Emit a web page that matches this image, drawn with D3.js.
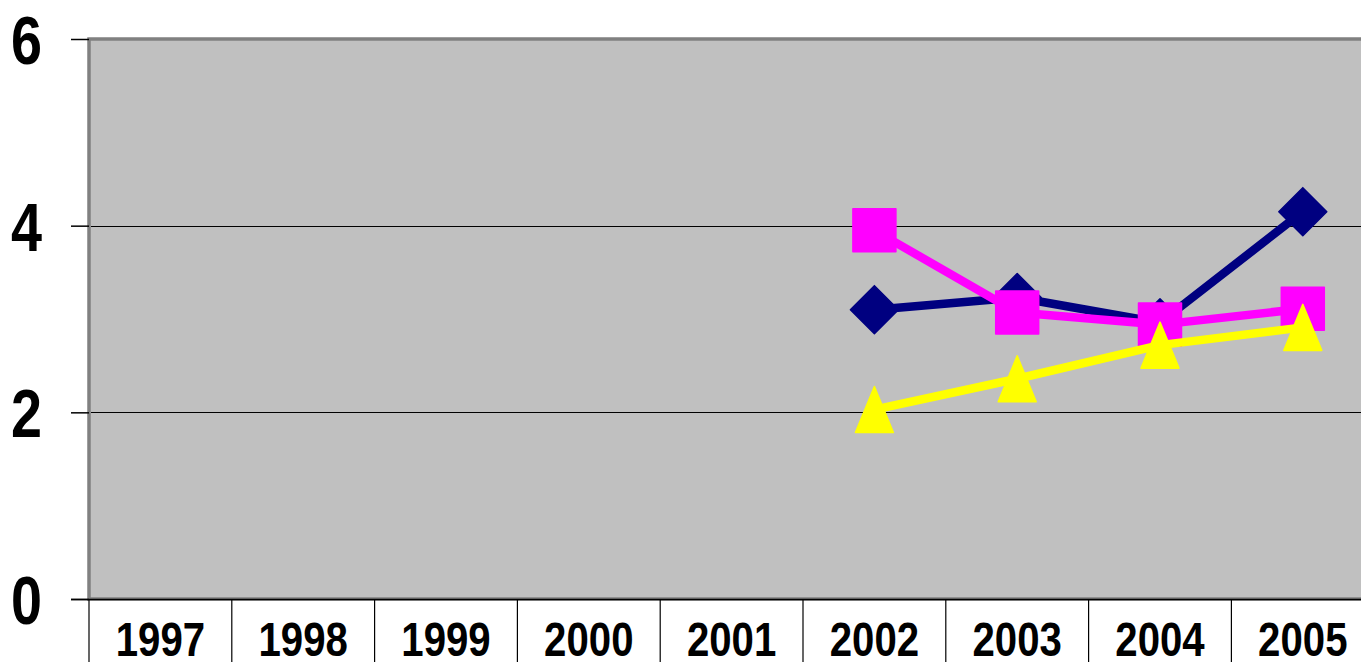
<!DOCTYPE html>
<html>
<head>
<meta charset="utf-8">
<script src="https://cdn.jsdelivr.net/npm/d3@7/dist/d3.min.js"></script>
<style>
  html, body { margin: 0; padding: 0; background: #ffffff; overflow: hidden; }
  svg { display: block; }
  .lbl { font-family: "Liberation Sans", Arial, sans-serif; font-weight: bold; fill: #000; }
</style>
</head>
<body>
<svg id="chart" width="1361" height="662"></svg>
<script>
// Chart data
const years = ["1997", "1998", "1999", "2000", "2001", "2002", "2003", "2004", "2005"];
const seriesA = [null, null, null, null, null, 3.10, 3.23, 2.96, 4.15]; // navy diamonds
const seriesB = [null, null, null, null, null, 3.95, 3.07, 2.94, 3.11]; // magenta squares
const seriesC = [null, null, null, null, null, 2.03, 2.36, 2.72, 2.91]; // yellow triangles
const yTicks = [0, 2, 4, 6];

const svg = d3.select("#chart");

// Plot frame
const plotLeft = 89, plotTop = 39, plotBottom = 599;
const band = 142.8;
const plotRight = plotLeft + band * years.length;
const narrow = 0.82; // horizontal squeeze for a condensed bold face

const x = d3.scaleBand().domain(years).range([plotLeft, plotRight]).paddingInner(0).paddingOuter(0);
const y = d3.scaleLinear().domain([0, 6]).range([plotBottom, plotTop]);

// Plot background with border
svg.append("rect")
  .attr("x", plotLeft).attr("y", plotTop)
  .attr("width", plotRight - plotLeft).attr("height", plotBottom - plotTop)
  .attr("fill", "#c0c0c0")
  .attr("stroke", "#808080").attr("stroke-width", 3.5);

// Horizontal gridlines
svg.append("g").selectAll("line")
  .data(yTicks.filter(d => d > 0 && d < 6))
  .join("line")
  .attr("x1", plotLeft + 2).attr("x2", plotRight)
  .attr("y1", d => Math.round(y(d)) + 0.5).attr("y2", d => Math.round(y(d)) + 0.5)
  .attr("stroke", "#000").attr("stroke-width", 1);

// Value axis
const yAxis = d3.axisLeft(y).tickValues(yTicks).tickSize(18).tickPadding(0).tickFormat(d3.format("d"));
const gy = svg.append("g").attr("transform", `translate(${plotLeft},0)`).call(yAxis);
gy.select(".domain").remove();
gy.selectAll(".tick line").attr("stroke", "#000").attr("stroke-width", 1.5);
gy.selectAll(".tick text")
  .attr("class", "lbl")
  .attr("x", 0)
  .attr("dy", "0.36em")
  .attr("text-anchor", "end")
  .attr("transform", `translate(-47,0) scale(${narrow},1)`)
  .style("font-size", "68px");

// Category axis line
svg.append("line")
  .attr("x1", plotLeft - 18).attr("x2", plotRight)
  .attr("y1", plotBottom + 0.5).attr("y2", plotBottom + 0.5)
  .attr("stroke", "#000").attr("stroke-width", 1.5);

// Category dividers below axis
const divs = d3.range(years.length + 1).map(i => plotLeft + i * x.bandwidth());
svg.append("g").selectAll("line")
  .data(divs)
  .join("line")
  .attr("x1", d => d).attr("x2", d => d)
  .attr("y1", plotBottom).attr("y2", 662)
  .attr("stroke", "#000").attr("stroke-width", 1.2);

// Category labels
svg.append("g").selectAll("text")
  .data(years)
  .join("text")
  .attr("class", "lbl")
  .attr("transform", d => `translate(${x(d) + x.bandwidth() / 2},656) scale(${narrow},1)`)
  .attr("text-anchor", "middle")
  .style("font-size", "49px")
  .text(d => d);

// Series
const cx = (d, i) => x(years[i]) + x.bandwidth() / 2;

const series = [
  { values: seriesA, color: "#000080", marker: "diamond" },
  { values: seriesB, color: "#ff00ff", marker: "square" },
  { values: seriesC, color: "#ffff00", marker: "triangle" }
];

const line = d3.line()
  .defined(d => d != null)
  .x((d, i) => cx(d, i))
  .y(d => y(d));

const markerPath = {
  diamond: "M0,-24L24,0L0,24L-24,0Z",
  square: "M-21.5,-21.5H21.5V21.5H-21.5Z",
  triangle: "M0,-23L19,23H-19Z"
};

series.forEach(s => {
  const g = svg.append("g");
  g.append("path")
    .datum(s.values)
    .attr("d", line)
    .attr("fill", "none")
    .attr("stroke", s.color)
    .attr("stroke-width", 8.5)
    .attr("stroke-linejoin", "round");
  g.selectAll("path.mk")
    .data(s.values.map((v, i) => ({ v, i })).filter(d => d.v != null))
    .join("path")
    .attr("class", "mk")
    .attr("transform", d => `translate(${cx(d.v, d.i)},${y(d.v)})`)
    .attr("d", markerPath[s.marker])
    .attr("fill", s.color)
    .attr("stroke", s.color)
    .attr("stroke-width", 1.5)
    .attr("stroke-linejoin", "round");
});
</script>
</body>
</html>
